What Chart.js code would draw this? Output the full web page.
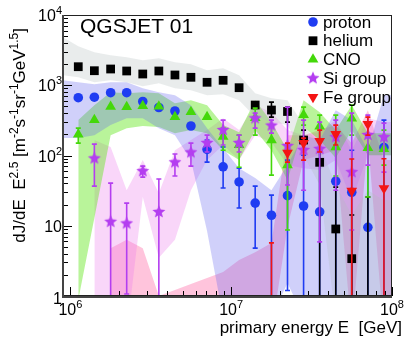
<!DOCTYPE html>
<html><head><meta charset="utf-8">
<script src="https://cdn.jsdelivr.net/npm/chart.js@4/dist/chart.umd.min.js"></script>
<style>html,body{margin:0;padding:0;background:#fff}canvas{display:block}</style>
</head><body>
<canvas id="c" width="407" height="338"></canvas>
<script>
// ---------- data (energies in GeV, fluxes in m^-2 s^-1 sr^-1 GeV^1.5) ----------
const energies = [1.12e6,1.41e6,1.78e6,2.24e6,2.82e6,3.55e6,4.47e6,5.62e6,7.08e6,8.91e6,
                  1.12e7,1.41e7,1.78e7,2.24e7,2.82e7,3.55e7,4.47e7,5.62e7,7.08e7,8.91e7];

const proton    = [665,676,783,783,587,482,430,263,122,69,42,21,14.1,26.8,19.1,15.8,43,30,9.5,130];
const protonErrHi = [null,null,null,null,null,null,null,null,166,132,66,36.7,27.3,86,101,119,166,119,119,319];
const protonErrLo = [null,null,null,null,null,null,null,null,80.5,34.4,17.9,4.8,0.3,1.2,0.3,0.3,0.3,0.3,0.3,0.3];

const helium    = [1836,1610,1703,1596,1446,1596,1400,1298,1102,1176,923,523,444,423,166,80,9.0,3.4,0.6,null];
const heliumErrHi = [null,null,null,null,null,null,null,null,null,null,null,null,575,488,230,119,35.5,14.2,25.6,null];
const heliumErrLo = [null,null,null,null,null,null,null,null,null,null,null,null,352,299,119,0.3,0.3,0.3,0.3,null];

const cno       = [199,320,495,490,507,499,353,416,353,185,141,342,166,73,377,259,132,336,128,124];
const cnoErrHi  = [245,null,null,null,null,null,null,null,null,245,195,472,271,119,488,376,376,521,271,230];
const cnoErrLo  = [150,null,null,null,null,null,null,null,null,119,68,195,52.6,8.7,271,166,51,195,25.6,73];

const siGroup   = [null,91,11.4,10.8,60,15.7,80,111,151,231,151,339,267,137,120,124,183,58,196,183];
const siErrHi   = [null,145,40.5,21,70.6,46.2,105,150,195,319,195,401,319,488,319,299,319,401,376,289];
const siErrLo   = [null,36.7,0.3,1.07,49.3,0.3,51,70.6,112,141,112,245,208,38,32,5.9,32,8.7,73,58];

const feGroup   = [null,null,null,null,null,null,null,null,null,null,null,null,0.5,109,150,160,201,31.5,280,34];
const feErrHi   = [null,null,null,null,null,null,null,null,null,null,null,null,5.7,150,177,230,271,89,352,90];
const feErrLo   = [null,null,null,null,null,null,null,null,null,null,null,null,0.3,80.5,86,112,141,0.3,195,0.3];

// systematic bands
const pHeBandE = [9e5,1.12e6,1.41e6,1.78e6,2.24e6,2.82e6,3.55e6,4.47e6,5.62e6,7.08e6,8.91e6,
                  1.12e7,1.41e7,1.78e7,2.24e7,2.82e7,3.55e7,4.47e7,5.62e7,7.08e7,8.91e7,1e8];
const heliumBandHi = [4830,3600,2955,2680,2510,2275,2430,2130,1995,1640,1750,1393,772,655,614,271,141,38,14.2,32,23,23];
const heliumBandLo = [1393,1303,1107,1182,1107,971,1071,909,851,723,747,614,352,299,271,101,38,0.45,0.45,0.33,0.33,0.33];
const protonBandHi = [1182,1107,1037,1107,1107,909,798,723,521,245,127,66,48,32,73,195,166,442,319,119,723,723];
const protonBandLo = [177,177,195,271,340,340,245,195,86,8.4,0.5,0.5,0.5,0.5,1.53,0.5,0.5,0.5,0.5,0.5,0.5,0.5];

const cnoBandE = [1.12e6,1.41e6,1.78e6,2.24e6,2.82e6,3.55e6,4.47e6,5.62e6,7.08e6,8.91e6,
                  1.12e7,1.41e7,1.78e7,2.24e7,2.82e7,3.55e7,4.47e7,5.62e7,7.08e7,8.91e7,1e8];
const cnoBandHi = [319,521,798,772,798,772,556,614,521,271,215,614,299,119,614,414,230,521,208,208,208];
const cnoBandLo = [0.88,12.9,195,245,262,254,208,230,208,119,86,230,119,44.7,254,166,92,230,101,101,101];

const siBandE = [1.41e6,1.78e6,2.24e6,2.82e6,3.55e6,4.47e6,5.62e6,7.08e6,8.91e6,
                 1.12e7,1.41e7,1.78e7,2.24e7,2.82e7,3.55e7,4.47e7,5.62e7,7.08e7,8.91e7,1e8];
const siBandHi = [166,132,32,86,29,119,166,230,340,230,521,414,230,195,215,319,119,340,299,299];
const siBandLo = [0.3,0.3,0.3,25.6,3.5,6.3,32,86,141,86,195,155,73,66,62,86,23,101,101,101];

const feBandE = [1.78e6,2.24e6,2.82e6,3.55e6,4.47e6,5.62e6,7.08e6,8.91e6,
                 1.12e7,1.41e7,1.78e7,2.24e7,2.82e7,3.55e7,4.47e7,5.62e7,7.08e7,8.91e7,1e8];
const feBandHi = [4.8,6.3,4.8,1.0,1.22,1.48,1.8,2.2,3.25,4.2,5.7,195,195,230,271,150,442,86,86];
const feBandLo = [0.3,0.3,0.3,0.3,0.3,0.3,0.3,0.3,0.3,0.3,0.3,9.6,86,101,119,0.3,166,0.3,0.3];

const xTickLabels = [[1e6,'10','6'],[1e7,'10','7'],[1e8,'10','8']];
const yTickLabels = [[1,'1',''],[10,'10',''],[100,'10','2'],[1000,'10','3'],[10000,'10','4']];
const legendNames = ['proton','helium','CNO','Si group','Fe group'];

// ---------- styling ----------
const COL = {p:'#1f3cf2', he:'#000000', cno:'#44d80a', si:'#b43ef0', fe:'#f41414'};
const FONT = '"Liberation Sans", Arial, Helvetica, sans-serif';

function makeStar(r, color){
  const s = Math.ceil(r*2+2), c = document.createElement('canvas');
  c.width = s; c.height = s;
  const g = c.getContext('2d');
  g.beginPath();
  for(let k=0;k<10;k++){
    const a = -Math.PI/2 + k*Math.PI/5, rr = (k%2) ? r*0.45 : r;
    g.lineTo(s/2 + rr*Math.cos(a), s/2 + rr*Math.sin(a));
  }
  g.closePath(); g.fillStyle = color; g.fill();
  return c;
}
const starImg = makeStar(6.8, COL.si);

const pts = (arr, E) => (E||energies).map((e,i)=>({x:e, y:arr[i]}));

function band(hi, lo, E, color){
  return [
    {data: pts(hi,E), showLine:true, borderColor:'transparent', borderWidth:0, pointRadius:0, fill:false, order:20, tension:0},
    {data: pts(lo,E), showLine:true, borderColor:'transparent', borderWidth:0, pointRadius:0, fill:'-1', backgroundColor:color, order:20, tension:0}
  ];
}
function series(vals, lo, hi, color, style, radius, order, extra){
  return Object.assign({
    data: pts(vals), showLine:false, pointStyle:style, pointRadius:radius, pointHoverRadius:radius,
    backgroundColor:color, borderColor:color, borderWidth:0, order:order,
    errLo:lo, errHi:hi, errColor:color
  }, extra||{});
}

const datasets = [
  ...band(heliumBandHi, heliumBandLo, pHeBandE, 'rgba(175,185,185,0.28)'),
  ...band(protonBandHi, protonBandLo, pHeBandE, 'rgba(100,100,240,0.30)'),
  ...band(cnoBandHi, cnoBandLo, cnoBandE, 'rgba(100,230,30,0.45)'),
  ...band(siBandHi, siBandLo, siBandE, 'rgba(235,120,235,0.30)'),
  ...band(feBandHi, feBandLo, feBandE, 'rgba(255,60,140,0.30)'),
  series(proton, protonErrLo, protonErrHi, COL.p, 'circle', 4.8, 5),
  series(helium, heliumErrLo, heliumErrHi, COL.he, 'rect', 6.2, 4),
  series(cno, cnoErrLo, cnoErrHi, COL.cno, 'triangle', 6.2, 3),
  series(siGroup, siErrLo, siErrHi, COL.si, starImg, 7, 2),
  series(feGroup, feErrLo, feErrHi, COL.fe, 'triangle', 6.2, 1, {rotation:180})
];

function clipArea(ctx, a){ ctx.beginPath(); ctx.rect(a.left, a.top, a.right-a.left, a.bottom-a.top); ctx.clip(); }

const errPlugin = {
  id:'errbars',
  beforeDatasetDraw(chart, args){
    const ds = chart.data.datasets[args.index];
    if(!ds.errLo) return;
    const {ctx, chartArea:a, scales:{x, y}} = chart;
    ctx.save(); clipArea(ctx, a);
    ctx.strokeStyle = ds.errColor; ctx.lineWidth = 1.6;
    ds.data.forEach((p,i)=>{
      const lo = ds.errLo[i], hi = ds.errHi[i];
      if(lo==null || hi==null) return;
      const px = x.getPixelForValue(p.x), y1 = y.getPixelForValue(hi), y2 = y.getPixelForValue(lo);
      ctx.beginPath();
      ctx.moveTo(px, y1); ctx.lineTo(px, y2);
      ctx.moveTo(px-2.5, y1); ctx.lineTo(px+2.5, y1);
      ctx.moveTo(px-2.5, y2); ctx.lineTo(px+2.5, y2);
      ctx.stroke();
    });
    ctx.restore();
  }
};

function drawMarker(ctx, kind, x, y){
  ctx.save();
  if(kind===0){ ctx.fillStyle=COL.p; ctx.beginPath(); ctx.arc(x,y,4.8,0,Math.PI*2); ctx.fill(); }
  else if(kind===1){ ctx.fillStyle=COL.he; ctx.fillRect(x-4.4,y-4.4,8.8,8.8); }
  else if(kind===2){ ctx.fillStyle=COL.cno; ctx.beginPath(); ctx.moveTo(x,y-6.2); ctx.lineTo(x+5.4,y+3.1); ctx.lineTo(x-5.4,y+3.1); ctx.closePath(); ctx.fill(); }
  else if(kind===3){ ctx.drawImage(starImg, x-starImg.width/2, y-starImg.height/2); }
  else { ctx.fillStyle=COL.fe; ctx.beginPath(); ctx.moveTo(x,y+6.2); ctx.lineTo(x+5.4,y-3.1); ctx.lineTo(x-5.4,y-3.1); ctx.closePath(); ctx.fill(); }
  ctx.restore();
}

function supText(ctx, x, y, base, sup, fs, ss, rise){
  ctx.font = fs+'px '+FONT; ctx.fillText(base, x, y);
  const w = ctx.measureText(base).width;
  if(sup){ ctx.font = ss+'px '+FONT; ctx.fillText(sup, x+w, y-rise); return w + ctx.measureText(sup).width; }
  return w;
}
function supWidth(ctx, base, sup, fs, ss){
  ctx.font = fs+'px '+FONT; let w = ctx.measureText(base).width;
  if(sup){ ctx.font = ss+'px '+FONT; w += ctx.measureText(sup).width; }
  return w;
}

const decorPlugin = {
  id:'decor',
  afterDraw(chart){
    const {ctx, chartArea:a, scales:{x, y}} = chart;
    ctx.save();
    ctx.fillStyle = '#000'; ctx.strokeStyle = '#000';
    // ticks
    ctx.lineWidth = 1;
    for(let d=1e6; d<=1e8; d*=10){
      for(let m=1; m<=9; m++){
        const v = d*m; if(v<9e5 || v>1e8) continue;
        const px = Math.round(x.getPixelForValue(v))+0.5;
        const len = (m===1) ? 9 : 5;
        ctx.beginPath(); ctx.moveTo(px, a.bottom); ctx.lineTo(px, a.bottom-len); ctx.stroke();
      }
    }
    for(let d=1; d<=1e4; d*=10){
      for(let m=1; m<=9; m++){
        const v = d*m; if(v>1e4) continue;
        const py = Math.round(y.getPixelForValue(v))+0.5;
        const len = (m===1) ? 9 : 5;
        ctx.beginPath(); ctx.moveTo(a.left, py); ctx.lineTo(a.left+len, py); ctx.stroke();
      }
    }
    // frame
    ctx.lineWidth = 1; ctx.strokeStyle = '#222';
    ctx.strokeRect(a.left+0.5, a.top+0.5, a.right-a.left-1, a.bottom-a.top-1);
    ctx.lineWidth = 2; ctx.strokeStyle = '#444';
    ctx.beginPath(); ctx.moveTo(a.left, a.top); ctx.lineTo(a.left, a.bottom+1); ctx.lineTo(a.right, a.bottom+1); ctx.stroke();

    // tick labels
    ctx.fillStyle = '#000'; ctx.textBaseline = 'alphabetic'; ctx.textAlign = 'left';
    xTickLabels.forEach(([v,b,s])=>{
      const px = x.getPixelForValue(v);
      const w = supWidth(ctx,b,s,16,11);
      supText(ctx, px - w/2, 315, b, s, 16, 11, 7);
    });
    yTickLabels.forEach(([v,b,s])=>{
      const py = y.getPixelForValue(v);
      const w = supWidth(ctx,b,s,16,11);
      const yy = (v===1) ? py+8 : py+6;
      supText(ctx, 62 - w, yy, b, s, 16, 11, 7);
    });

    // x title
    const xt = [['primary energy E  [GeV]','']];
    ctx.font = '17px '+FONT;
    const xw = ctx.measureText(xt[0][0]).width;
    ctx.fillText(xt[0][0], 402 - xw, 333);

    // y title (rotated) with superscripts
    const parts = [['dJ/dE  E',''],['','2.5'],[' [m',''],['','-2'],['s',''],['','-1'],['sr',''],['','-1'],['GeV',''],['','1.5'],[']','']];
    let total = 0;
    parts.forEach(([b,s])=>{ total += supWidth(ctx,b,s,17,12); });
    ctx.save();
    ctx.translate(25, 28 + total);
    ctx.rotate(-Math.PI/2);
    let cx = 0;
    parts.forEach(([b,s])=>{ cx += supText(ctx, cx, 0, b, s, 17, 12, 7); });
    ctx.restore();

    // title
    ctx.font = '21px '+FONT;
    ctx.fillText('QGSJET 01', 80, 33);

    // legend
    legendNames.forEach((n,i)=>{
      const ly = 22 + i*18.75;
      drawMarker(ctx, i, 313, ly);
      ctx.font = '17px '+FONT; ctx.textBaseline = 'middle'; ctx.fillStyle = '#000';
      ctx.fillText(n, 323, ly+1);
    });
    ctx.restore();
  }
};

new Chart(document.getElementById('c'), {
  type:'scatter',
  data:{datasets},
  options:{
    responsive:false, animation:false, devicePixelRatio:1,
    layout:{padding:{left:63, right:15, top:15, bottom:42}},
    plugins:{legend:{display:false}, tooltip:{enabled:false}, filler:{propagate:false}},
    elements:{line:{tension:0}},
    scales:{
      x:{type:'logarithmic', min:9e5, max:1e8, display:false},
      y:{type:'logarithmic', min:1, max:1e4, display:false}
    }
  },
  plugins:[errPlugin, decorPlugin]
});
</script>
</body></html>
